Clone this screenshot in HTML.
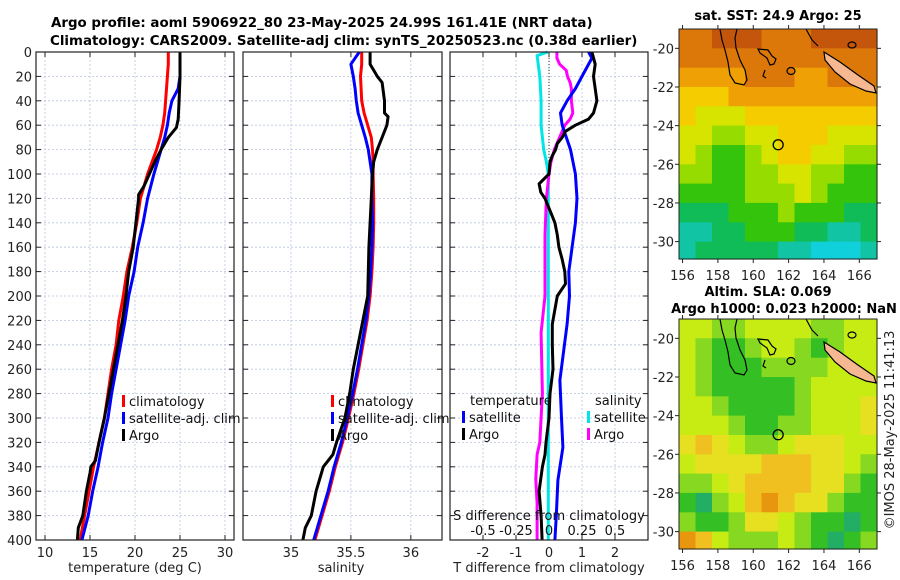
<!DOCTYPE html>
<html><head><meta charset="utf-8"><style>
body{margin:0;background:#fff;}
svg{display:block;font-family:"DejaVu Sans","Liberation Sans",sans-serif;}
</style></head><body>
<svg id="fig" width="900" height="580" viewBox="0 0 900 580" xmlns="http://www.w3.org/2000/svg">
<rect width="900" height="580" fill="#fff"/>
<text x="51" y="27" font-size="13.4" font-weight="bold" fill="#000">Argo profile: aoml 5906922_80 23-May-2025 24.99S 161.41E (NRT data)</text>
<text x="50" y="45" font-size="13.4" font-weight="bold" fill="#000">Climatology: CARS2009. Satellite-adj clim: synTS_20250523.nc (0.38d earlier)</text>
<g id="g"></g>
</svg>
<script>
// ---- profile data ----
const depths = [0,10,20,30,40,50,60,70,80,90,100,120,140,160,180,200,220,240,260,280,300,320,340,360,380,400];
const tempClim = [23.7,23.7,23.6,23.5,23.4,23.3,23.1,22.8,22.4,21.9,21.4,20.6,20.2,19.7,19.1,18.7,18.2,17.9,17.4,17.0,16.6,16.0,15.4,14.9,14.4,13.9];
const tempSat = [25.0,25.0,25.0,24.8,24.1,23.8,23.6,23.3,22.9,22.5,22.1,21.4,20.9,20.3,19.9,19.3,18.9,18.4,17.9,17.4,17.0,16.4,15.9,15.3,14.8,14.1];
const argoTDepths = [0,10,20,40,55,62,70,80,90,100,110,117,120,140,160,180,200,220,240,260,280,300,320,335,340,345,360,380,390,400];
const tempArgo = [25.0,25.0,25.0,24.9,24.8,24.6,23.7,22.9,22.2,21.6,21.0,20.4,20.4,20.1,19.8,19.3,19.0,18.6,18.1,17.6,17.1,16.6,16.0,15.6,15.1,15.0,14.6,14.2,13.7,13.6];
const salClim = [35.59,35.59,35.58,35.585,35.59,35.61,35.64,35.67,35.68,35.685,35.685,35.69,35.69,35.685,35.675,35.66,35.635,35.60,35.565,35.525,35.48,35.43,35.37,35.32,35.26,35.20];
const salSat = [35.57,35.50,35.52,35.535,35.545,35.56,35.59,35.62,35.645,35.66,35.675,35.675,35.68,35.675,35.665,35.65,35.625,35.59,35.555,35.515,35.47,35.42,35.36,35.31,35.25,35.19];
const argoSDepths = [0,10,15,20,25,40,50,53,60,70,80,90,100,120,160,200,220,240,260,280,300,320,330,340,360,380,390,400];
const salArgo = [35.66,35.66,35.69,35.72,35.76,35.78,35.78,35.81,35.80,35.76,35.72,35.69,35.68,35.67,35.65,35.64,35.60,35.56,35.52,35.49,35.45,35.38,35.35,35.27,35.21,35.17,35.12,35.10];
const tDiffDepths = [0,5,20,30,40,50,60,80,100,120,140,160,180,200,223,269,300,324,351,380,400];
const tDiffSat = [1.2,1.3,1.0,0.8,0.55,0.35,0.4,0.65,0.8,0.85,0.8,0.7,0.6,0.62,0.55,0.33,0.38,0.42,0.27,0.22,0.18];
const tArgoDepths = [0,10,20,40,50,55,60,65,70,75,80,85,90,100,108,115,120,130,140,150,160,170,180,190,200,223,240,260,280,300,320,330,340,360,380,400];
const tDiffArgo = [1.3,1.4,1.35,1.45,1.35,1.2,0.8,0.5,0.4,0.25,0.2,0.1,0.03,0,-0.3,-0.25,-0.12,0.03,0.18,0.25,0.3,0.4,0.48,0.5,0.25,0.1,0.1,0.12,0.03,0,-0.09,-0.12,-0.2,-0.3,-0.24,-0.21];
const sDiffDepths = [0,3,20,40,60,70,80,90,100,150,200,250,300,350,400];
const sDiffSat = [-0.01,-0.09,-0.07,-0.06,-0.06,-0.05,-0.04,-0.02,-0.005,-0.005,-0.005,-0.005,-0.005,-0.005,-0.005];
const sArgoDepths = [0,5,10,15,20,25,30,40,50,55,60,70,80,90,100,120,150,200,230,280,320,330,350,370,400];
const sDiffArgo = [0.06,0.06,0.08,0.13,0.14,0.16,0.17,0.17,0.18,0.16,0.12,0.08,0.04,0.015,0,-0.02,-0.03,-0.03,-0.06,-0.05,-0.07,-0.09,-0.1,-0.09,-0.09];
const depthTicks = [0,20,40,60,80,100,120,140,160,180,200,220,240,260,280,300,320,340,360,380,400];
const tempTicks = [10,15,20,25,30];
const salTicks = [35,35.5,36];
const tDiffTicks = [-2,-1,0,1,2];
const sDiffTicks = [-0.5,-0.25,0,0.25,0.5];
const sDiffTickLabels = ["-0.5","-0.25","0","0.25","0.5"];
// ---- map data ----
const lonTicks = [156,158,160,162,164,166];
const latTicks = [-20,-22,-24,-26,-28,-30];
const sstPalette = ['#c4560c','#dc780a','#eea004','#f4cc00','#d6e400','#96dc00','#34c40c','#10bc58','#10c4a4','#10d0dc'];
const sstGrid = [
[1,1,0,0,0,1,1,1,0,0,0,0],
[1,1,1,1,1,1,1,1,1,1,1,1],
[2,2,2,2,1,1,1,2,2,1,1,1],
[3,3,3,2,2,2,2,2,2,2,2,2],
[3,4,4,4,3,3,3,3,3,3,3,3],
[4,4,5,5,4,4,3,3,3,4,4,4],
[4,5,6,6,5,4,3,3,4,4,5,5],
[5,5,6,6,5,5,4,4,5,5,6,6],
[6,6,6,6,5,5,5,4,5,6,6,6],
[7,7,7,6,6,6,5,6,6,6,7,7],
[8,8,7,7,6,6,6,7,7,8,8,7],
[8,7,7,7,7,7,8,8,9,9,9,8]];
const slaPalette = ['#e8960e','#f0c020','#e6e020','#c6ec14','#86d820','#34c024','#22ae64'];
const slaGrid = [
[3,3,4,4,3,3,3,3,4,4,3,3],
[3,4,5,5,4,3,3,4,5,4,3,3],
[3,4,5,5,5,4,4,4,4,3,3,3],
[3,4,5,5,5,5,5,4,3,3,3,3],
[3,3,4,5,5,5,5,4,3,3,3,2],
[3,3,3,4,5,5,4,4,3,3,3,2],
[2,1,2,3,4,4,3,2,2,2,3,3],
[3,2,2,2,2,1,1,1,2,2,3,4],
[4,4,3,2,1,1,1,1,2,2,4,5],
[5,6,4,3,1,0,1,2,2,4,5,5],
[4,5,5,4,2,2,3,4,5,5,6,5],
[0,1,3,4,4,4,3,4,5,6,5,4]];
const argoLon = 161.41, argoLat = -24.99;

const NS='http://www.w3.org/2000/svg';
const G=document.getElementById('g');
function el(tag,attrs,parent){const e=document.createElementNS(NS,tag);for(const k in attrs)e.setAttribute(k,attrs[k]);(parent||G).appendChild(e);return e;}
function txt(s,attrs){const e=el('text',attrs);e.textContent=s;return e;}

const yTop=52,yBot=540;
const yD=d=>yTop+(d/400)*(yBot-yTop);
function panel(x0,x1,xmin,xmax,name){
  const xs=v=>x0+(v-xmin)/(xmax-xmin)*(x1-x0);
  return {x0,x1,xs,name};
}
const P1=panel(36,234,9,31,'temperature');
const P2=panel(243,442,34.6,36.26,'salinity');
const P3=panel(450,648,-3.0,3.0,'t-diff');
const sxs=v=>P3.xs(v*4);

function frame(P,xticks,yLabels){
  const g=el('g',{});
  
  
  depthTicks.forEach(d=>{
    const l=el('line',{x1:P.x0,x2:P.x1,y1:yD(d),y2:yD(d),stroke:'#b8c4e0','stroke-width':0.8,'stroke-dasharray':'2,2'},g);
    
    el('line',{x1:P.x0,x2:P.x0+5,y1:yD(d),y2:yD(d),stroke:'#222'},g);
    el('line',{x1:P.x1-5,x2:P.x1,y1:yD(d),y2:yD(d),stroke:'#222'},g);
    if(yLabels){const t=txt(String(d),{x:P.x0-4,y:yD(d)+5,'font-size':13,'text-anchor':'end',fill:'#222'});
      }
  });
  xticks.forEach(v=>{
    const X=P.xs(v);
    const l=el('line',{x1:X,x2:X,y1:yTop,y2:yBot,stroke:'#b8c4e0','stroke-width':0.8,'stroke-dasharray':'2,2'},g);
    
    el('line',{x1:X,x2:X,y1:yTop,y2:yTop+5,stroke:'#222'},g);
    el('line',{x1:X,x2:X,y1:yBot-5,y2:yBot,stroke:'#222'},g);
    const t=txt(String(v),{x:X,y:yBot+17,'font-size':13,'text-anchor':'middle',fill:'#222'});
    
  });
  return g;
}
function series(xs,vals,ds,color,name,w){
  const pts=vals.map((v,i)=>xs(v).toFixed(1)+','+yD(ds[i]).toFixed(1)).join(' ');
  const p=el('polyline',{points:pts,fill:'none',stroke:color,'stroke-width':w||3,'stroke-linejoin':'round'});
  
  
}
function box(P){const r=el('rect',{x:P.x0,y:yTop,width:P.x1-P.x0,height:yBot-yTop,fill:'none',stroke:'#222','stroke-width':1.2});
  }
function legendItem(x,y,color,label,name){
  const m=el('rect',{x:x,y:y-11,width:3,height:12,fill:color});
  
  const t=txt(label,{x:x+7,y:y,'font-size':13,fill:'#111'});
  
}

// Panel 1
frame(P1,tempTicks,true);
series(P1.xs,tempClim,depths,'#ff0000','temp-climatology-line');
series(P1.xs,tempSat,depths,'#0000ff','temp-satellite-line');
series(P1.xs,tempArgo,argoTDepths,'#000','temp-argo-line');
box(P1);
legendItem(122,406,'#ff0000','climatology','legend-climatology');
legendItem(122,423,'#0000ff','satellite-adj. clim','legend-satellite-adj');
legendItem(122,440,'#000','Argo','legend-argo');
let t=txt('temperature (deg C)',{x:135,y:572,'font-size':13,'text-anchor':'middle',fill:'#222'});


// Panel 2
frame(P2,salTicks,false);
series(P2.xs,salClim,depths,'#ff0000','sal-climatology-line');
series(P2.xs,salSat,depths,'#0000ff','sal-satellite-line');
series(P2.xs,salArgo,argoSDepths,'#000','sal-argo-line');
box(P2);
legendItem(331,406,'#ff0000','climatology','legend-climatology-2');
legendItem(331,423,'#0000ff','satellite-adj. clim','legend-satellite-adj-2');
legendItem(331,440,'#000','Argo','legend-argo-2');
t=txt('salinity',{x:341,y:572,'font-size':13,'text-anchor':'middle',fill:'#222'});


// Panel 3
frame(P3,tDiffTicks,false);
let z=el('line',{x1:P3.xs(0),x2:P3.xs(0),y1:yTop,y2:yBot,stroke:'#333','stroke-width':1,'stroke-dasharray':'1,2'});

series(sxs,sDiffSat,sDiffDepths,'#00e5e5','s-diff-satellite-line');
series(sxs,sDiffArgo,sArgoDepths,'#ff00ff','s-diff-argo-line');
series(P3.xs,tDiffSat,tDiffDepths,'#0000ff','t-diff-satellite-line');
series(P3.xs,tDiffArgo,tArgoDepths,'#000','t-diff-argo-line');
box(P3);
t=txt('temperature',{x:470,y:405,'font-size':13,fill:'#111'});
t=txt('salinity',{x:595,y:405,'font-size':13,fill:'#111'});
legendItem(462,422,'#0000ff','satellite','legend-t-satellite');
legendItem(462,439,'#000','Argo','legend-t-argo');
legendItem(587,422,'#00e5e5','satellite','legend-s-satellite');
legendItem(587,439,'#ff00ff','Argo','legend-s-argo');
t=txt('S difference from climatology',{x:549,y:520,'font-size':13,'text-anchor':'middle',fill:'#111'});

sDiffTicks.forEach((v,i)=>{const e=txt(sDiffTickLabels[i],{x:sxs(v),y:535,'font-size':13,'text-anchor':'middle',fill:'#111'});
  });
t=txt('T difference from climatology',{x:549,y:572,'font-size':13,'text-anchor':'middle',fill:'#222'});


// Maps
const mx0=679,mx1=877,lon0=155.8,lon1=167.0,lat0=-19.0,lat1=-30.9;
function makeMap(y0,y1,grid,pal,name){
  const lx=lon=>mx0+(lon-lon0)/(lon1-lon0)*(mx1-mx0);
  const ly=lat=>y0+(lat-lat0)/(lat1-lat0)*(y1-y0);
  const g=el('g',{});
  
  
  const nc=grid[0].length;
  const dlon=(lon1-lon0)/nc, dlat=1.0;
  grid.forEach((row,r)=>row.forEach((v,c)=>{
    const la=lat0-r*dlat, la2=Math.max(lat1,la-dlat);
    const x=lx(lon0+c*dlon), w=lx(lon0+(c+1)*dlon)-x;
    const y=ly(la), h=ly(la2)-y;
    const cell=el('rect',{x:x.toFixed(1),y:y.toFixed(1),width:(w+0.6).toFixed(1),height:(h+0.6).toFixed(1),fill:pal[v]},g);
    
    
  }));
  const dy=y0-29;
  const cg=el('g',{transform:'translate(0,'+dy+')',fill:'none',stroke:'#000','stroke-width':1.2},g);
  
  el('path',{d:'M720,29 L722,40 L725,50 L728,62 L730,75 L735,83 L744,85 L747,80 L745,70 L740,60 L736,48 L735,38 L737,29'},cg);
  el('path',{d:'M758,49 L768,50 L772,56 L776,59 L774,64 L770,65 L767,58 L760,53 Z'},cg);
  el('ellipse',{cx:791,cy:71,rx:4,ry:3.5},cg);
  el('ellipse',{cx:852,cy:45,rx:4,ry:3},cg);
  el('path',{d:'M765,70 L763,76 L766,78'},cg);
  el('path',{d:'M806,29 L812,40 L818,46'},cg);
  const nc2=el('path',{d:'M824,52 L840,62 L858,75 L874,86 L876,93 L866,91 L850,84 L835,72 L825,60 Z',fill:'#f5b890',stroke:'#000','stroke-width':1.2},cg);
  
  const ac=el('circle',{cx:lx(argoLon),cy:ly(argoLat),r:5,fill:'none',stroke:'#000','stroke-width':1.3},g);
  
  const fr=el('rect',{x:mx0,y:y0,width:mx1-mx0,height:y1-y0,fill:'none',stroke:'#222','stroke-width':1},g);
  
  latTicks.forEach(la=>{const Y=ly(la);
    el('line',{x1:mx0-4,x2:mx0,y1:Y,y2:Y,stroke:'#222'},g);
    el('line',{x1:mx1,x2:mx1+4,y1:Y,y2:Y,stroke:'#222'},g);
    const e=txt(String(la),{x:mx0-5,y:Y+5,'font-size':13,'text-anchor':'end',fill:'#222'});
    });
  lonTicks.forEach(lo=>{const X=lx(lo);
    el('line',{x1:X,x2:X,y1:y1,y2:y1+4,stroke:'#222'},g);
    el('line',{x1:X,x2:X,y1:y0-4,y2:y0,stroke:'#222'},g);
    const e=txt(String(lo),{x:X,y:y1+21,'font-size':13,'text-anchor':'middle',fill:'#222'});
    });
}
makeMap(29,259,sstGrid,sstPalette,'sst-map');
makeMap(319,549,slaGrid,slaPalette,'sla-map');
t=txt('sat. SST: 24.9 Argo: 25',{x:778,y:20,'font-size':13,'font-weight':'bold','text-anchor':'middle',fill:'#000'});

t=txt('Altim. SLA: 0.069',{x:768,y:296,'font-size':13,'font-weight':'bold','text-anchor':'middle',fill:'#000'});

t=txt('Argo h1000: 0.023 h2000: NaN',{x:784,y:313,'font-size':13,'font-weight':'bold','text-anchor':'middle',fill:'#000'});

t=txt('©IMOS 28-May-2025 11:41:13',{x:0,y:0,'font-size':13,'text-anchor':'middle',fill:'#222',transform:'translate(894,430) rotate(-90)'});

</script>
</body></html>
